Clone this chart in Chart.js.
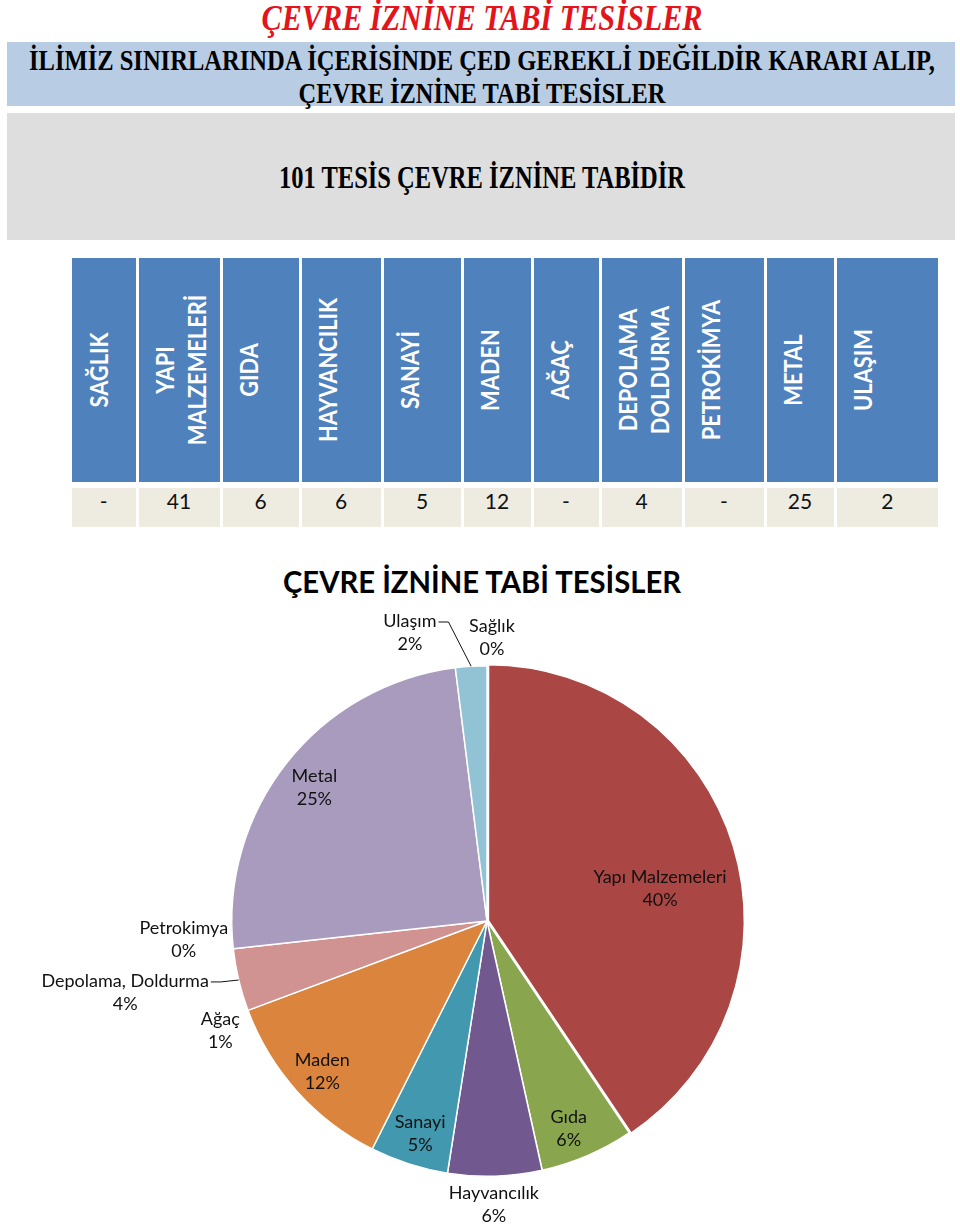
<!DOCTYPE html>
<html>
<head>
<meta charset="utf-8">
<script src="https://cdn.jsdelivr.net/npm/chart.js@4.4.1/dist/chart.umd.min.js"></script>
<style>
  html, body { margin: 0; padding: 0; background: #fff; }
  body { width: 960px; height: 1225px; position: relative; overflow: hidden; }
  .abs { position: absolute; }
  .serif { font-family: "Liberation Serif", "Times New Roman", serif; font-weight: bold; white-space: nowrap; }
  .fit { position: absolute; left: 0; width: 960px; }
  .fit span { position: absolute; top: 0; left: 482px; white-space: nowrap; transform-origin: center center; }
  .hcell { position: absolute; background: #4F81BD; overflow: hidden; }
  .hcell .rot { position: absolute; left: 0; top: 0; transform-origin: 0 0;
    font-family: Lato, "Open Sans", sans-serif; font-weight: bold; font-size: 24px; line-height: 32px;
    color: #fff; text-align: center; white-space: nowrap; }
  .vcell { position: absolute; background: #EEECE1; font-family: Lato, "Open Sans", sans-serif;
    font-size: 21px; line-height: 26px; color: #111; text-align: center; }
  #pieTitle { font-family: Lato, "Open Sans", sans-serif; font-weight: bold; font-size: 30px; color: #000; }
</style>
</head>
<body>

<div class="fit serif" id="t1" style="top:0px;height:38px;line-height:38px;color:#E3141C;font-style:italic;font-size:35px;"><span>ÇEVRE İZNİNE TABİ TESİSLER</span></div>

<div class="abs" style="left:7px;top:42px;width:948px;height:64px;background:#B8CCE4;"></div>
<div class="fit serif" id="t2" style="top:44px;height:32px;line-height:32px;color:#000;font-size:30px;"><span>İLİMİZ SINIRLARINDA İÇERİSİNDE ÇED GEREKLİ DEĞİLDİR KARARI ALIP,</span></div>
<div class="fit serif" id="t3" style="top:77px;height:32px;line-height:32px;color:#000;font-size:30px;"><span>ÇEVRE İZNİNE TABİ TESİSLER</span></div>

<div class="abs" style="left:7px;top:113px;width:948px;height:127px;background:#DEDEDE;"></div>
<div class="fit serif" id="t4" style="top:160px;height:34px;line-height:34px;color:#000;font-size:32px;"><span>101 TESİS ÇEVRE İZNİNE TABİDİR</span></div>

<div id="table"></div>

<div class="fit" id="pieTitle" style="top:563px;height:36px;line-height:36px;"><span>ÇEVRE İZNİNE TABİ TESİSLER</span></div>

<canvas id="pie" width="960" height="670" style="position:absolute;left:0;top:555px;"></canvas>

<script>
// ---------- data ----------
const categories = ['SAĞLIK', 'YAPI\nMALZEMELERİ', 'GIDA', 'HAYVANCILIK', 'SANAYİ', 'MADEN', 'AĞAÇ', 'DEPOLAMA\nDOLDURMA', 'PETROKİMYA', 'METAL', 'ULAŞIM'];
const tableValues = ['-', '41', '6', '6', '5', '12', '-', '4', '-', '25', '2'];
const pieNames = ['Sağlık', 'Yapı Malzemeleri', 'Gıda', 'Hayvancılık', 'Sanayi', 'Maden', 'Ağaç', 'Depolama, Doldurma', 'Petrokimya', 'Metal', 'Ulaşım'];
const pieValues = [0, 41, 6, 6, 5, 12, 0, 4, 0, 25, 2];
const piePercentLabels = ['0%', '40%', '6%', '6%', '5%', '12%', '1%', '4%', '0%', '25%', '2%'];

// ---------- styles / layout ----------
const pieColors = ['#4572A7', '#AA4643', '#89A54E', '#71588F', '#4198AF', '#DB843D', '#93A9CF', '#D19392', '#B9CD96', '#A99BBD', '#92C3D5'];
const colBounds = [72, 137, 221, 300, 382, 462, 532, 600, 683, 765, 835, 938];
const headTop = 258, headH = 224, valTop = 488, valH = 39, gap = 3, headSquash = 0.91;
const fitWidths = { t1: 441, t2: 906, t3: 367, t4: 406, pieTitle: 398 };
// label placement: radial factor of outer radius, angle nudge (deg), leader line
const labelPlacement = [
  { r: 1.11, da: 1 },
  { r: 0.69, da: 6.2 },
  { r: 0.875, da: 1.7 },
  { r: 1.11, da: 0.4 },
  { r: 0.875, da: -0.4 },
  { r: 0.875, da: -0.6 },
  { r: 1.13, da: -1.9 },
  { r: 1.445, da: 2.2, leader: true },
  { r: 1.19, da: 2.8 },
  { r: 0.855, da: -0.6 },
  { r: 1.17, da: -11.4, leader: true }
];

// fit heading text to widths (centered on x=482)
Object.keys(fitWidths).forEach(id => {
  const sp = document.querySelector('#' + id + ' span');
  const w = sp.getBoundingClientRect().width;
  sp.style.transform = 'translateX(-50%) scaleX(' + (fitWidths[id] / w) + ')';
});

// ---------- table ----------
const table = document.getElementById('table');
const n = categories.length;
for (let i = 0; i < n; i++) {
  const left = colBounds[i] + (i > 0 ? gap / 2 : 0);
  const right = colBounds[i + 1] - (i < n - 1 ? gap / 2 : 0);
  const w = right - left;
  const h = document.createElement('div');
  h.className = 'hcell';
  h.style.left = left + 'px'; h.style.top = headTop + 'px';
  h.style.width = w + 'px'; h.style.height = headH + 'px';
  const r = document.createElement('div');
  r.className = 'rot';
  r.style.width = (headH / headSquash) + 'px';
  r.innerHTML = categories[i].split('\n').join('<br>');
  r.style.transform = 'translate(' + (27 - gap / 2 - 16 + (i === 0 ? 1.5 : 0)) + 'px,' + headH + 'px) rotate(-90deg) scaleX(' + headSquash + ')';
  h.appendChild(r);
  table.appendChild(h);

  const v = document.createElement('div');
  v.className = 'vcell';
  v.style.left = left + 'px'; v.style.top = valTop + 'px';
  v.style.width = w + 'px'; v.style.height = valH + 'px';
  v.textContent = tableValues[i];
  table.appendChild(v);
}

// ---------- pie ----------
const labelPlugin = {
  id: 'sliceLabels',
  afterDatasetsDraw(chart, args, opts) {
    const ctx = chart.ctx;
    const meta = chart.getDatasetMeta(0);
    ctx.save();
    ctx.font = opts.font;
    ctx.fillStyle = opts.color;
    ctx.strokeStyle = opts.color;
    ctx.lineWidth = 1;
    ctx.textAlign = 'center';
    ctx.textBaseline = 'middle';
    meta.data.forEach((arc, i) => {
      const p = arc.getProps(['x', 'y', 'startAngle', 'endAngle', 'outerRadius'], true);
      const mid = (p.startAngle + p.endAngle) / 2;
      const pl = opts.placement[i];
      const a = mid + pl.da * Math.PI / 180;
      const cx = p.x + Math.cos(a) * p.outerRadius * pl.r;
      const cy = p.y + Math.sin(a) * p.outerRadius * pl.r;
      const l1 = cy - opts.lineGap / 2, l2 = cy + opts.lineGap / 2;
      ctx.fillText(pieNames[i], cx, l1);
      ctx.fillText(piePercentLabels[i], cx, l2);
      if (pl.leader) {
        const w = ctx.measureText(pieNames[i]).width;
        const ex = p.x + Math.cos(mid) * p.outerRadius;
        const ey = p.y + Math.sin(mid) * p.outerRadius;
        const tx = cx + w / 2 + 2;
        ctx.beginPath();
        ctx.moveTo(tx, l1 + 1);
        ctx.lineTo(tx + 10, l1 + 1);
        ctx.lineTo(ex, ey);
        ctx.stroke();
      }
    });
    ctx.restore();
  }
};

new Chart(document.getElementById('pie'), {
  type: 'pie',
  data: {
    labels: pieNames,
    datasets: [{
      data: pieValues,
      backgroundColor: pieColors,
      borderColor: '#ffffff',
      borderWidth: 1.5,
      offset: pieValues.map((v, i) => i === 1 ? 6 : 0)
    }]
  },
  options: {
    responsive: false,
    animation: false,
    events: [],
    layout: { padding: { top: 107, bottom: 45, left: 228, right: 214 } },
    plugins: {
      legend: { display: false },
      tooltip: { enabled: false },
      sliceLabels: { font: '18px Lato, "Open Sans", sans-serif', color: '#111', lineGap: 23, placement: labelPlacement }
    }
  },
  plugins: [labelPlugin]
});
</script>
</body>
</html>
